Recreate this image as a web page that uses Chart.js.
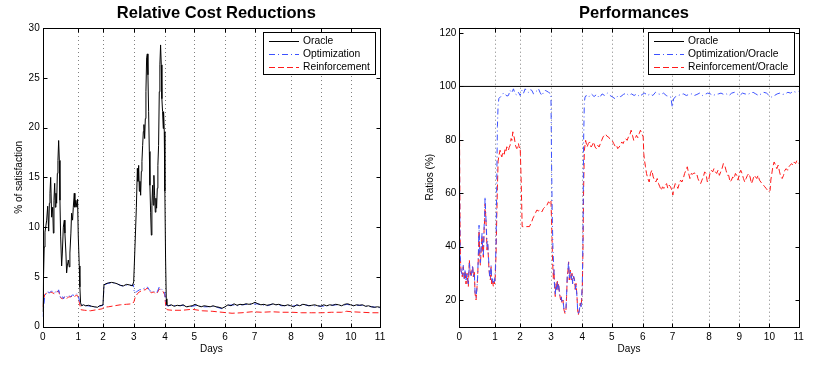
<!DOCTYPE html>
<html lang="en">
<head>
    <meta charset="UTF-8">
    <title>Relative Cost Reductions / Performances</title>
    <script src="https://cdn.jsdelivr.net/npm/chart.js"></script>
    <style>
        html, body { margin: 0; padding: 0; background: #fff; }
        .panel { position: absolute; top: 0; height: 368px; }
        #left { left: 0; width: 408px; }
        #right { left: 408px; width: 409px; }
    </style>
</head>
<body>
    <div class="panel" id="left"><canvas id="costChart" width="408" height="368"></canvas></div>
    <div class="panel" id="right"><canvas id="ratioChart" width="409" height="368"></canvas></div>

    <script>
        // sample index of each day boundary (days are not equally long)
        const dayTickPos = [0, 35.7, 60.5, 91.4, 122.7, 152, 182.9, 212.6, 249.1, 279.2, 309.3, 338.5];
        const dayLabels = ['0', '1', '2', '3', '4', '5', '6', '7', '8', '9', '10', '11'];
        const costTicks = [0, 5, 10, 15, 20, 25, 30];
        const ratioTicks = [20, 40, 60, 80, 100, 120];

        // Relative Cost Reductions, [sample, % of satisfaction]
        const costOracle = [[0,1.5],[0.7,4.5],[1.5,8],[2.3,9.5],[3.3,10.2],[4,10.7],[5,12.1],[6,9.6],[6.7,12.4],[7.3,13.4],[8,15],[9,11],[10,12],[10.7,9.4],[11.3,12.7],[12,14.4],[12.7,12],[13.3,13.4],[14,12.4],[14.7,15.4],[15.3,16.7],[16,18.7],[16.7,16.7],[17.3,12.7],[18,9.1],[19,6.1],[19.7,7.4],[20.7,10],[21.7,10.7],[22.3,9.4],[23.3,7.4],[24,5.4],[24.7,6.1],[25.7,6.7],[26.7,6],[27.3,7.4],[28.3,9.4],[29,11.4],[30,10.7],[30.7,12],[31.7,13.4],[32.3,12],[33.3,12.7],[34.3,12],[35,12.8],[35.7,9.1],[36.7,6.1],[37.3,4],[38,2.4],[39,2.1],[41,2.2],[43,2.1],[46,2.15],[49,2.05],[52,2.0],[55,1.95],[57,2.1],[59.5,2.15],[60.5,2.2],[61.5,4.2],[63,4.3],[66,4.4],[69,4.45],[72,4.4],[75,4.3],[78,4.15],[81,4.1],[84,4.25],[87,4.2],[90,4.1],[91.3,4.5],[92.3,7.2],[94,12],[95,15.9],[95.6,14.6],[96.3,16.2],[97,13.6],[97.6,14.6],[98.3,13.2],[99,15.6],[99.6,16.6],[100.3,18.2],[101,19.6],[101.6,20.3],[102.3,18.9],[103,20.9],[103.6,23.6],[104.3,27],[105,27.4],[105.6,25.3],[106.3,21.6],[107,17.6],[107.6,14.2],[108.3,11.5],[109,9.2],[109.6,12.2],[110.3,14.2],[111,12.2],[111.6,15.2],[112.3,13.2],[113,11.5],[113.6,12.9],[114.3,11.9],[115,13.9],[115.6,16.2],[116.3,18.2],[117,23.6],[117.6,26.3],[118.3,28.3],[119,26.3],[119.6,22.9],[120.3,21.6],[121,19.9],[121.3,21.6],[122,19.6],[122.6,13.6],[123.3,6.9],[124,2.8],[124.6,2.2],[126,2.1],[129,2.2],[132,2.05],[135,2.15],[138,2.1],[141,2.2],[144,2.0],[147,2.05],[150,2.1],[153,2.25],[156,2.1],[159,2.0],[162,2.1],[165,2.05],[168,2.0],[171,2.1],[174,2.0],[177,1.95],[180,1.85],[183,2.0],[186,2.2],[189,2.1],[192,2.3],[195,2.15],[198,2.25],[201,2.2],[204,2.3],[207,2.25],[210,2.3],[213,2.45],[216,2.3],[219,2.2],[222,2.25],[225,2.15],[228,2.2],[231,2.3],[234,2.2],[237,2.25],[240,2.15],[243,2.1],[246,2.2],[249,2.1],[252,2.0],[255,2.2],[258,2.1],[261,2.25],[264,2.2],[267,2.1],[270,2.15],[273,2.2],[276,2.1],[279,2.05],[282,2.2],[285,2.1],[288,2.2],[291,2.15],[294,2.25],[297,2.2],[300,2.1],[303,2.25],[306,2.3],[309,2.2],[312,2.1],[315,2.2],[318,2.15],[321,2.2],[324,2.05],[327,2.1],[330,2.0],[333,1.95],[336,2.0],[338.5,1.95]];
        const costOptimization = [[0,1.0],[1,2.0],[2,3.0],[3,3.3],[5,3.5],[7,3.4],[9,3.6],[11,3.4],[13,3.5],[15,3.4],[16,3.7],[17,3.3],[18,2.8],[20,3.0],[21,2.8],[22,3.1],[24,3.0],[26,3.2],[28,3.0],[30,3.2],[32,3.1],[34,3.3],[35.5,3.1],[37,2.6],[38.5,2.2],[41,2.15],[45,2.1],[49,2.05],[53,1.95],[57,2.05],[60.5,2.15],[61.5,4.15],[65,4.35],[69,4.4],[73,4.35],[77,4.2],[81,4.05],[85,4.2],[89,4.15],[91,4.2],[92,3.4],[94,3.5],[97,3.7],[100,3.8],[103,3.9],[105,4.0],[107,3.7],[109,3.5],[111,3.6],[113,3.4],[115,3.5],[117,4.0],[119,3.8],[121,3.6],[122.5,3.4],[123.5,2.2],[125,2.1],[130,2.15],[135,2.1],[140,2.15],[145,2.0],[150,2.05],[155,2.15],[160,2.0],[165,2.0],[170,2.05],[175,1.95],[180,1.8],[185,2.1],[190,2.2],[195,2.1],[200,2.2],[205,2.25],[210,2.25],[215,2.3],[220,2.2],[225,2.1],[230,2.25],[235,2.2],[240,2.1],[245,2.15],[250,2.05],[255,2.15],[260,2.2],[265,2.15],[270,2.1],[275,2.1],[280,2.05],[285,2.1],[290,2.15],[295,2.2],[300,2.1],[305,2.25],[310,2.15],[315,2.15],[320,2.15],[325,2.05],[330,2.0],[335,1.95],[338.5,1.9]];
        const costReinforcement = [[0,2.0],[1,2.8],[2,3.2],[4,3.4],[6,3.3],[8,3.5],[10,3.4],[12,3.3],[14,3.5],[16,3.6],[17,3.2],[18,2.9],[20,2.8],[22,3.0],[24,2.8],[26,3.0],[28,3.0],[30,3.1],[32,3.0],[34,3.2],[35.5,3.0],[37,2.3],[38.5,1.7],[42,1.65],[48,1.6],[54,1.7],[60,1.8],[61,1.95],[66,2.0],[72,2.1],[78,2.2],[84,2.25],[90,2.3],[91.5,2.5],[93,3.0],[95,3.3],[97,3.5],[99,3.6],[101,3.7],[103,3.7],[105,3.9],[107,3.6],[109,3.4],[111,3.5],[113,3.3],[115,3.4],[117,3.8],[119,3.6],[121,3.5],[122.5,3.2],[123.5,2.0],[125,1.7],[130,1.65],[140,1.65],[150,1.75],[160,1.6],[170,1.55],[180,1.45],[190,1.35],[200,1.4],[210,1.5],[220,1.45],[230,1.5],[240,1.45],[250,1.45],[260,1.4],[270,1.4],[280,1.4],[290,1.45],[300,1.45],[305,1.55],[310,1.5],[320,1.45],[330,1.4],[338.5,1.4]];

        // Performances, [sample, ratio %]
        const ratioOracle = [[0,100],[338.5,100]];
        const ratioOptimization = [[0,100],[0.4,55],[0.8,38],[1.2,34],[1.7,31],[3,29],[4,33],[5,28],[5.7,31],[6.7,27],[7.7,30],[9,26],[10,34],[10.7,31],[11.7,29],[12.3,30],[13.3,33],[14,29],[15,30],[15.7,23],[16.7,21],[17.7,25],[18.3,29],[19,37],[19.7,48],[20.3,39],[21,34],[22,41],[22.7,45],[23.3,39],[24,37],[24.7,47],[25.3,52],[25.7,58.6],[26.3,53],[27,47],[27.7,40],[28.3,42],[29,37],[29.7,32],[30.3,29],[31,28],[31.7,33],[32.3,27],[33,28],[34,26],[34.7,28],[35.3,27],[36,32],[36.7,42],[37.3,62],[38,85],[38.7,93],[39.5,95.5],[42.4,96.6],[44,97.5],[45.7,97.2],[47.4,96.4],[49,96.6],[50.7,98.5],[52.4,97.6],[54,99.1],[55.7,97.2],[57.4,96.8],[59,97.8],[60.7,96.6],[62.4,98.5],[64,97.4],[65.7,99.1],[67.4,98.2],[69,97.8],[70.7,98.8],[72.4,98.5],[74,97.2],[75.7,97.8],[77.4,98.4],[79,99.1],[80.7,97.6],[82.4,96.6],[84,97.8],[85.7,98.5],[87.4,98.2],[89,97.8],[91.4,97.2],[92,72],[92.7,52],[93.4,39],[94.4,31],[95,25],[95.7,22],[96.4,26],[97,24],[97.7,27],[98.4,24],[99,26],[100,22],[101,20.5],[101.7,21],[102.4,19],[103.4,20],[104.4,16.5],[105.4,15.5],[106.4,16.5],[107,22],[107.7,29],[108.4,31],[109,34.5],[109.7,28],[110.7,31],[111.7,28],[112.4,30],[113,26],[114,29],[115,27],[115.7,24],[116.4,26],[117.4,21],[118,16.5],[118.7,14.5],[119.7,16],[120.7,19],[121.4,17.5],[122,20.5],[122.7,26],[123.4,45],[124,80],[124.7,94],[125.4,96],[126.4,96.6],[129,96],[131.7,97.2],[134.4,96.2],[137,97],[139.7,95.7],[142.4,97.2],[145,96.6],[147.7,97.5],[150.4,96.6],[153,96],[155.7,95.3],[158.4,96.6],[161,96.2],[163.7,97],[166.4,97.5],[169,96.6],[171.7,97.2],[174.4,96.6],[177,97.2],[179.7,96.2],[182.4,97],[185,97.5],[187.7,96.6],[190.4,97.2],[193,96.6],[195.7,97.8],[198.4,97.2],[201,97],[203.7,97.5],[206.4,96.6],[209,96.2],[211,96],[212.4,92.2],[213.7,95.3],[215.7,96.2],[218.4,96.6],[221,97],[223.7,97.2],[226.4,96.6],[229,97],[231.7,97.2],[234.4,96.6],[237,97],[239.7,97.5],[242.4,96.6],[245,97],[247.7,97.5],[250.4,97.2],[253,96.6],[255.7,97],[258.4,97.2],[261,97.5],[263.7,97],[266.4,97.2],[269,96.6],[271.7,97.5],[274.4,97.8],[277,97.2],[279.7,96.6],[282.4,97.5],[285,97.2],[287.7,97],[290.4,97.5],[293,97.8],[295.7,97.2],[298.4,96.6],[301,97.2],[303.7,97.8],[306.4,97.5],[309,96.6],[311.7,96],[314.4,96.6],[317,97.2],[319.7,97.5],[322.4,97],[325,97.2],[327.7,97.8],[330.4,97.5],[333,98.2],[335.7,97.8],[338.5,98.2]];
        const ratioReinforcement = [[0,100],[0.4,70],[0.8,45],[1.2,35],[1.7,31],[3,28.7],[4,32.5],[5,27.5],[5.7,31],[6.7,26],[7.7,30],[9,25],[10,35],[10.7,31],[11.7,28.7],[12.3,30],[13.3,32.5],[14,28.7],[15,31],[15.7,22.5],[16.7,20],[17.7,25],[18.3,28.7],[19,36],[19.7,46],[20.3,38],[21,33],[22,40],[22.7,44],[23.3,38.7],[24,36],[24.7,46],[25.3,50],[25.7,56],[26.3,52],[27,46],[27.7,38.7],[28.3,41],[29,36],[29.7,31],[30.3,28.7],[31,27.5],[31.7,32.5],[32.3,26],[33,27.5],[34,25],[34.7,27],[35.3,26],[36,30],[36.7,38],[37.3,50],[38,62],[38.7,72],[39.5,74],[40.7,76.1],[41.5,74.5],[42.4,73.6],[43.2,75],[44,75.5],[44.8,74.6],[45.7,76.7],[46.5,75.8],[47.4,77.4],[48.2,76.4],[49,76.1],[49.8,77.2],[50.7,78],[51.7,80.5],[52.5,79.8],[53.4,83],[54,81.5],[54.7,81.1],[55.4,79.5],[56,78],[56.7,77.2],[57.4,76.7],[58.2,77.8],[59,78.6],[59.8,77],[60.7,77.4],[61.7,64.9],[62.7,47.5],[65,47.4],[67.4,47.5],[70,47.5],[71.4,48.7],[72.4,49.5],[73.4,50.6],[74.2,51.2],[75,51.8],[76.2,52.8],[77.4,53.7],[79,53.4],[80.7,53.7],[82.4,53],[84,54.3],[85.7,54.9],[87.4,55.5],[89,56.8],[90.7,56],[91.4,57],[92,50],[92.4,45],[93,35],[93.8,28],[94.4,31.2],[95,25],[95.7,21.3],[96.4,26.2],[97,23.7],[97.7,27.5],[98.4,23.7],[99,26.2],[100,22.5],[101,20],[101.7,21.3],[102.4,18.8],[103.4,20],[104.4,16.3],[105.4,15],[106.4,16.3],[107,21.3],[107.7,28.7],[108.4,31.2],[109,34.3],[109.7,27.5],[110.7,31.2],[111.7,27.5],[112.4,30],[113,26.2],[114,28.7],[115,27.5],[115.7,23.7],[116.4,26.2],[117.4,21.3],[118,16.3],[118.7,14.4],[119.7,16.3],[120.7,18.8],[121.4,17.5],[122,20],[122.7,25],[123.4,40],[124,62],[124.7,76],[126,79.8],[127.4,77.3],[128.7,78.6],[130,79.2],[131.4,77.3],[132.7,78],[134,79.2],[135.4,77.3],[136.7,76.7],[138,78],[139.4,77.3],[140.7,78.6],[142,79.8],[143.4,81.1],[144.7,81.7],[146,82.1],[147.4,81.3],[148.7,81.1],[150,80.4],[151.4,79.8],[152.7,79.6],[154,78.6],[155.4,77.6],[156.7,78],[158,76.7],[159.4,77.3],[160.7,78],[162,79.2],[163.4,78.6],[164.7,79.8],[166,80.4],[167.4,79.8],[168.7,81.1],[170,81.7],[171.4,83.6],[172.7,81.7],[174,79.8],[175.4,80.4],[176.7,81.7],[178,80.8],[179.4,82.3],[180.7,83.6],[182,82.3],[183.4,81.1],[184,74.8],[184.7,72.3],[185.7,69.9],[186.7,67.4],[188,65.5],[189.4,64.2],[190.7,67.4],[192,68.6],[193.4,66.1],[194.7,64.9],[196,64.2],[197.4,65.5],[198.7,63.6],[200,62.4],[201.4,61.1],[202.7,62.4],[204,61.8],[205.4,63],[206.7,63.6],[208,61.8],[209.4,63],[210.7,62.4],[212,61.1],[213,59.3],[214,61.8],[215.4,63.6],[216.7,63],[218,61.8],[219.4,63.6],[220.7,64.9],[222,64.2],[223.4,65.5],[224.7,67.4],[226,68.6],[227.4,69.9],[228.7,67.4],[230,65.5],[231.4,67.4],[232.7,67.1],[234,67.6],[235.4,67.4],[236.7,67.4],[238,65.5],[239.4,64.2],[240.7,63.6],[242,64.9],[243.4,66.1],[244.7,68],[246,67.4],[247.4,64.2],[248.7,64.9],[250,67.4],[251.4,68.6],[252.7,68],[254,69.2],[255.4,68],[256.7,67.4],[258,68.6],[259.4,66.7],[260.7,68],[262,69.2],[263.4,71.1],[264.7,70.5],[266,68.6],[267.4,66.7],[268.7,66.7],[270,64.2],[271.4,64.9],[272.7,66.1],[274,65.5],[275.4,67.4],[276.7,66.7],[278,64.9],[279.4,67.4],[280.7,68.6],[282,67.4],[283.4,65.5],[284.7,64.2],[286,65.5],[287.4,66.7],[288.7,67.4],[290,66.1],[291.4,63.6],[292.7,64.9],[294,66.7],[295.4,66.1],[296.7,65.5],[298,66.7],[299.4,64.9],[300.7,64.2],[302,63.6],[303.4,63],[304.7,62.4],[306,61.8],[307.4,61.1],[308.7,60.5],[310,61.1],[310.7,64.9],[311.7,67.4],[312.7,69.9],[314,71.7],[315.4,70.5],[316.7,69.2],[318,70.5],[319.4,68],[320.7,66.1],[322,65.5],[323.4,66.7],[324.7,68.6],[326,69.2],[327.4,68.6],[328.7,69.9],[330,70.5],[331.4,71.1],[332.7,70.5],[334,71.7],[335.4,71.1],[336.7,72.3],[338.5,71.1]];

        Chart.defaults.font.family = '"Liberation Sans", Arial, sans-serif';
        Chart.defaults.font.size = 10;
        Chart.defaults.color = '#000';

        const black = '#000000';
        const blue = '#3d52ff';
        const red = '#ff1a1a';

        function toPoints(pairs) {
            return pairs.map(p => ({ x: p[0], y: p[1] }));
        }

        function series(label, pairs, color, dash) {
            return {
                label: label,
                data: toPoints(pairs),
                borderColor: color,
                borderWidth: 1,
                borderDash: dash,
                pointRadius: 0,
                tension: 0,
                fill: false
            };
        }

        // matlab-like frame: dotted day lines, box, inward ticks, titles and legend
        const matlabFrame = {
            id: 'matlabFrame',
            beforeDatasetsDraw(chart) {
                const { ctx, chartArea: a, scales: { x } } = chart;
                ctx.save();
                ctx.strokeStyle = '#808080';
                ctx.lineWidth = 1;
                ctx.setLineDash([1, 3]);
                x.ticks.forEach(t => {
                    if (t.value <= x.min || t.value >= x.max) return;
                    const px = Math.round(x.getPixelForValue(t.value)) + 0.5;
                    ctx.beginPath();
                    ctx.moveTo(px, a.top);
                    ctx.lineTo(px, a.bottom);
                    ctx.stroke();
                });
                ctx.restore();
            },
            afterDatasetsDraw(chart) {
                const { ctx, chartArea: a, scales: { x, y } } = chart;
                const l = Math.round(a.left) + 0.5, r = Math.round(a.right) + 0.5;
                const t = Math.round(a.top) + 0.5, b = Math.round(a.bottom) + 0.5;
                ctx.save();
                ctx.strokeStyle = '#000';
                ctx.lineWidth = 1;
                ctx.strokeRect(l, t, r - l, b - t);
                ctx.beginPath();
                y.ticks.forEach(tk => {
                    const py = Math.round(y.getPixelForValue(tk.value)) + 0.5;
                    ctx.moveTo(l, py); ctx.lineTo(l + 4, py);
                    ctx.moveTo(r, py); ctx.lineTo(r - 4, py);
                });
                x.ticks.forEach(tk => {
                    const px = Math.round(x.getPixelForValue(tk.value)) + 0.5;
                    ctx.moveTo(px, b); ctx.lineTo(px, b - 4);
                    ctx.moveTo(px, t); ctx.lineTo(px, t + 4);
                });
                ctx.stroke();
                ctx.restore();
            },
            afterDraw(chart, args, opts) {
                const { ctx, chartArea: a } = chart;
                const cx = (a.left + a.right) / 2;
                ctx.save();
                ctx.fillStyle = '#000';
                ctx.textAlign = 'center';
                ctx.textBaseline = 'middle';
                ctx.font = 'bold 16.5px "Liberation Sans", Arial, sans-serif';
                ctx.fillText(opts.title, cx + 5, 13);
                ctx.font = '10px "Liberation Sans", Arial, sans-serif';
                ctx.fillText('Days', cx, 349);
                ctx.save();
                ctx.translate(opts.yTitleX, (a.top + a.bottom) / 2);
                ctx.rotate(-Math.PI / 2);
                ctx.fillText(opts.yTitle, 0, 0);
                ctx.restore();

                // legend box
                const lg = opts.legend;
                ctx.fillStyle = '#fff';
                ctx.fillRect(lg.x, lg.y, lg.w, lg.h);
                ctx.strokeStyle = '#000';
                ctx.lineWidth = 1;
                ctx.setLineDash([]);
                ctx.strokeRect(lg.x + 0.5, lg.y + 0.5, lg.w, lg.h);
                ctx.font = '10.3px "Liberation Sans", Arial, sans-serif';
                ctx.textAlign = 'left';
                chart.data.datasets.forEach((ds, i) => {
                    const ly = Math.round(lg.y + 9 + i * 13) + 0.5;
                    ctx.strokeStyle = ds.borderColor;
                    ctx.setLineDash(ds.borderDash || []);
                    ctx.beginPath();
                    ctx.moveTo(lg.x + 6, ly);
                    ctx.lineTo(lg.x + 36, ly);
                    ctx.stroke();
                    ctx.fillStyle = '#000';
                    ctx.fillText(ds.label, lg.x + 40, ly);
                });
                ctx.restore();
            }
        };

        function xAxis() {
            return {
                type: 'linear',
                min: 0,
                max: dayTickPos[dayTickPos.length - 1],
                grid: { display: false, drawTicks: false },
                border: { display: false },
                afterBuildTicks: scale => { scale.ticks = dayTickPos.map(v => ({ value: v })); },
                afterFit: scale => { scale.height = 41.3; },
                ticks: {
                    autoSkip: false,
                    maxRotation: 0,
                    padding: 5,
                    callback: (v, i) => dayLabels[i]
                }
            };
        }

        function yAxis(min, max, tickValues, width) {
            return {
                type: 'linear',
                min: min,
                max: max,
                grid: { display: false, drawTicks: false },
                border: { display: false },
                afterBuildTicks: scale => { scale.ticks = tickValues.map(v => ({ value: v })); },
                afterFit: scale => { scale.width = width; },
                ticks: { padding: 3, callback: v => String(v) }
            };
        }

        new Chart(document.getElementById('costChart'), {
            type: 'line',
            data: {
                datasets: [
                    series('Oracle', costOracle, black, []),
                    series('Optimization', costOptimization, blue, [6, 3, 1, 3]),
                    series('Reinforcement', costReinforcement, red, [6, 3])
                ]
            },
            options: {
                responsive: false,
                animation: false,
                layout: { padding: { left: 0, right: 28, top: 28, bottom: 0 } },
                scales: {
                    x: xAxis(),
                    y: yAxis(0, 30, costTicks, 42.7)
                },
                plugins: {
                    legend: { display: false },
                    tooltip: { enabled: false },
                    matlabFrame: {
                        title: 'Relative Cost Reductions',
                        yTitle: '% of satisfaction',
                        yTitleX: 19,
                        legend: { x: 263, y: 32, w: 112, h: 42 }
                    }
                }
            },
            plugins: [matlabFrame]
        });

        new Chart(document.getElementById('ratioChart'), {
            type: 'line',
            data: {
                datasets: [
                    series('Oracle', ratioOracle, black, []),
                    series('Optimization/Oracle', ratioOptimization, blue, [6, 3, 1, 3]),
                    series('Reinforcement/Oracle', ratioReinforcement, red, [6, 3])
                ]
            },
            options: {
                responsive: false,
                animation: false,
                layout: { padding: { left: 0, right: 18.3, top: 27.7, bottom: 0 } },
                scales: {
                    x: xAxis(),
                    y: yAxis(10, 122, ratioTicks, 51.3)
                },
                plugins: {
                    legend: { display: false },
                    tooltip: { enabled: false },
                    matlabFrame: {
                        title: 'Performances',
                        yTitle: 'Ratios (%)',
                        yTitleX: 22,
                        legend: { x: 240, y: 32, w: 146, h: 42 }
                    }
                }
            },
            plugins: [matlabFrame]
        });
    </script>
</body>
</html>
